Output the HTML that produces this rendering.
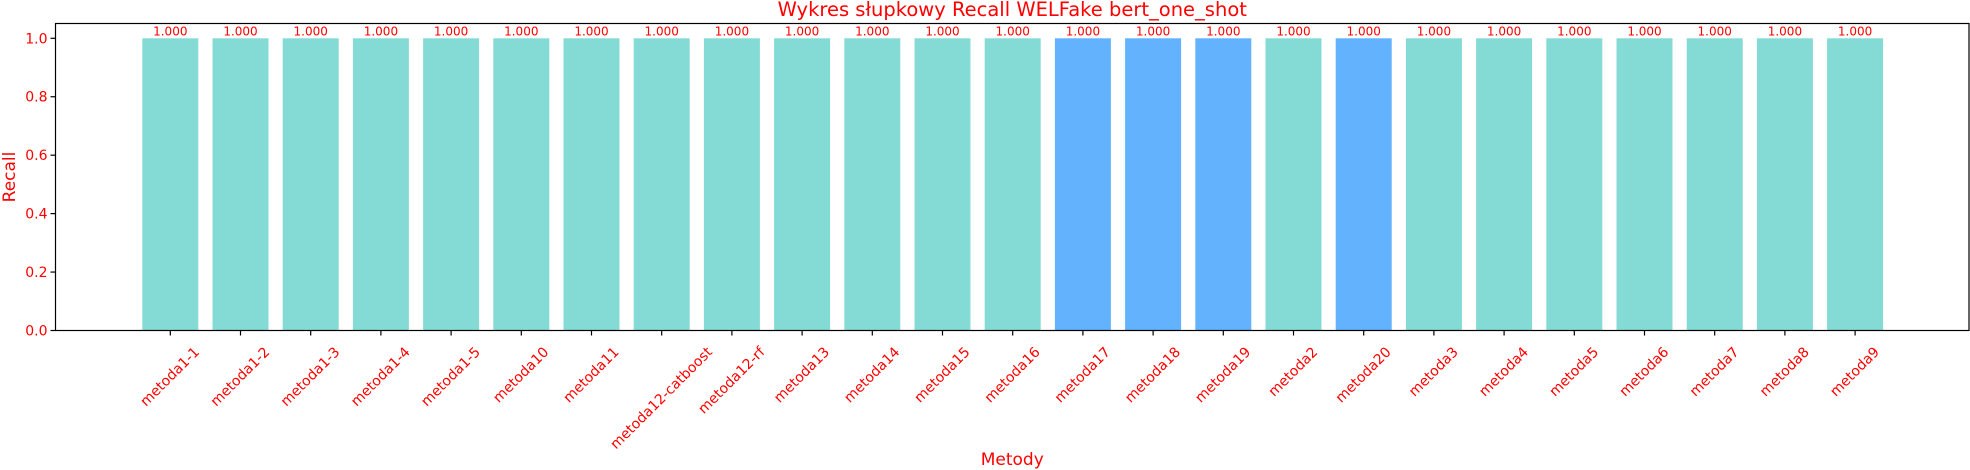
<!DOCTYPE html>
<html><head><meta charset="utf-8"><style>
html,body{margin:0;padding:0;background:#fff;}
svg{display:block;font-family:"DejaVu Sans","Liberation Sans",sans-serif;}
</style></head><body>
<svg id="chart" width="1970" height="470"></svg>
<script>
const categories=["metoda1-1","metoda1-2","metoda1-3","metoda1-4","metoda1-5","metoda10","metoda11","metoda12-catboost","metoda12-rf","metoda13","metoda14","metoda15","metoda16","metoda17","metoda18","metoda19","metoda2","metoda20","metoda3","metoda4","metoda5","metoda6","metoda7","metoda8","metoda9"];
const values=[1,1,1,1,1,1,1,1,1,1,1,1,1,1,1,1,1,1,1,1,1,1,1,1,1];
const highlighted=["metoda17","metoda18","metoda19","metoda20"];
const yTicks=[0,0.2,0.4,0.6,0.8,1.0];
const NS="http://www.w3.org/2000/svg";
const svg=document.getElementById('chart');
const L=55.5,R=1969,T=23.5,B=330.5;
const x0=170.3,step=70.2,bw=56;
function xs(i){return x0+i*step;}
function ys(v){return B-v*(B-38.3);}
function mk(t,a,p){const e=document.createElementNS(NS,t);for(const k in a)e.setAttribute(k,a[k]);(p||svg).appendChild(e);return e;}
const title=mk('text',{x:(L+R)/2,y:16,'text-anchor':'middle',fill:'red','font-size':19.5});


title.textContent='Wykres słupkowy Recall WELFake bert_one_shot';
categories.forEach((c,i)=>{
  const v=values[i];
  const r=mk('rect',{x:xs(i)-bw/2,y:ys(v),width:bw,height:B-ys(v),fill:highlighted.includes(c)?'#62b2fd':'#84dbd5'});
  
  
  const t=mk('text',{x:xs(i),y:ys(v)-3,'text-anchor':'middle',fill:'red','font-size':12});
  
  
  t.textContent=v.toFixed(3);
  mk('line',{x1:xs(i),x2:xs(i),y1:B,y2:B+5,stroke:'#000','stroke-width':1.2});
  const lb=mk('text',{'text-anchor':'middle','dominant-baseline':'central',fill:'red','font-size':14});
  
  
  lb.textContent=c;
  const len=lb.getComputedTextLength();
  const h=(len+14)*0.7071;
  const cy=345+h/2;
  lb.setAttribute('x',xs(i));lb.setAttribute('y',cy);
  lb.setAttribute('transform','rotate(-45 '+xs(i)+' '+cy+')');
});
yTicks.forEach(v=>{
  mk('line',{x1:L-5,x2:L,y1:ys(v),y2:ys(v),stroke:'#000','stroke-width':1.2});
  const t=mk('text',{x:L-8,y:ys(v)+5,'text-anchor':'end',fill:'red','font-size':14});
  
  
  t.textContent=v.toFixed(1);
});
const fr=mk('rect',{x:L,y:T,width:R-L,height:B-T,fill:'none',stroke:'#000','stroke-width':1.2});


const yl=mk('text',{x:15,y:(T+B)/2,'text-anchor':'middle',fill:'red','font-size':17,transform:'rotate(-90 15 '+((T+B)/2)+')'});


yl.textContent='Recall';
const xl=mk('text',{x:(L+R)/2,y:465,'text-anchor':'middle',fill:'red','font-size':17});


xl.textContent='Metody';
</script>
</body></html>
